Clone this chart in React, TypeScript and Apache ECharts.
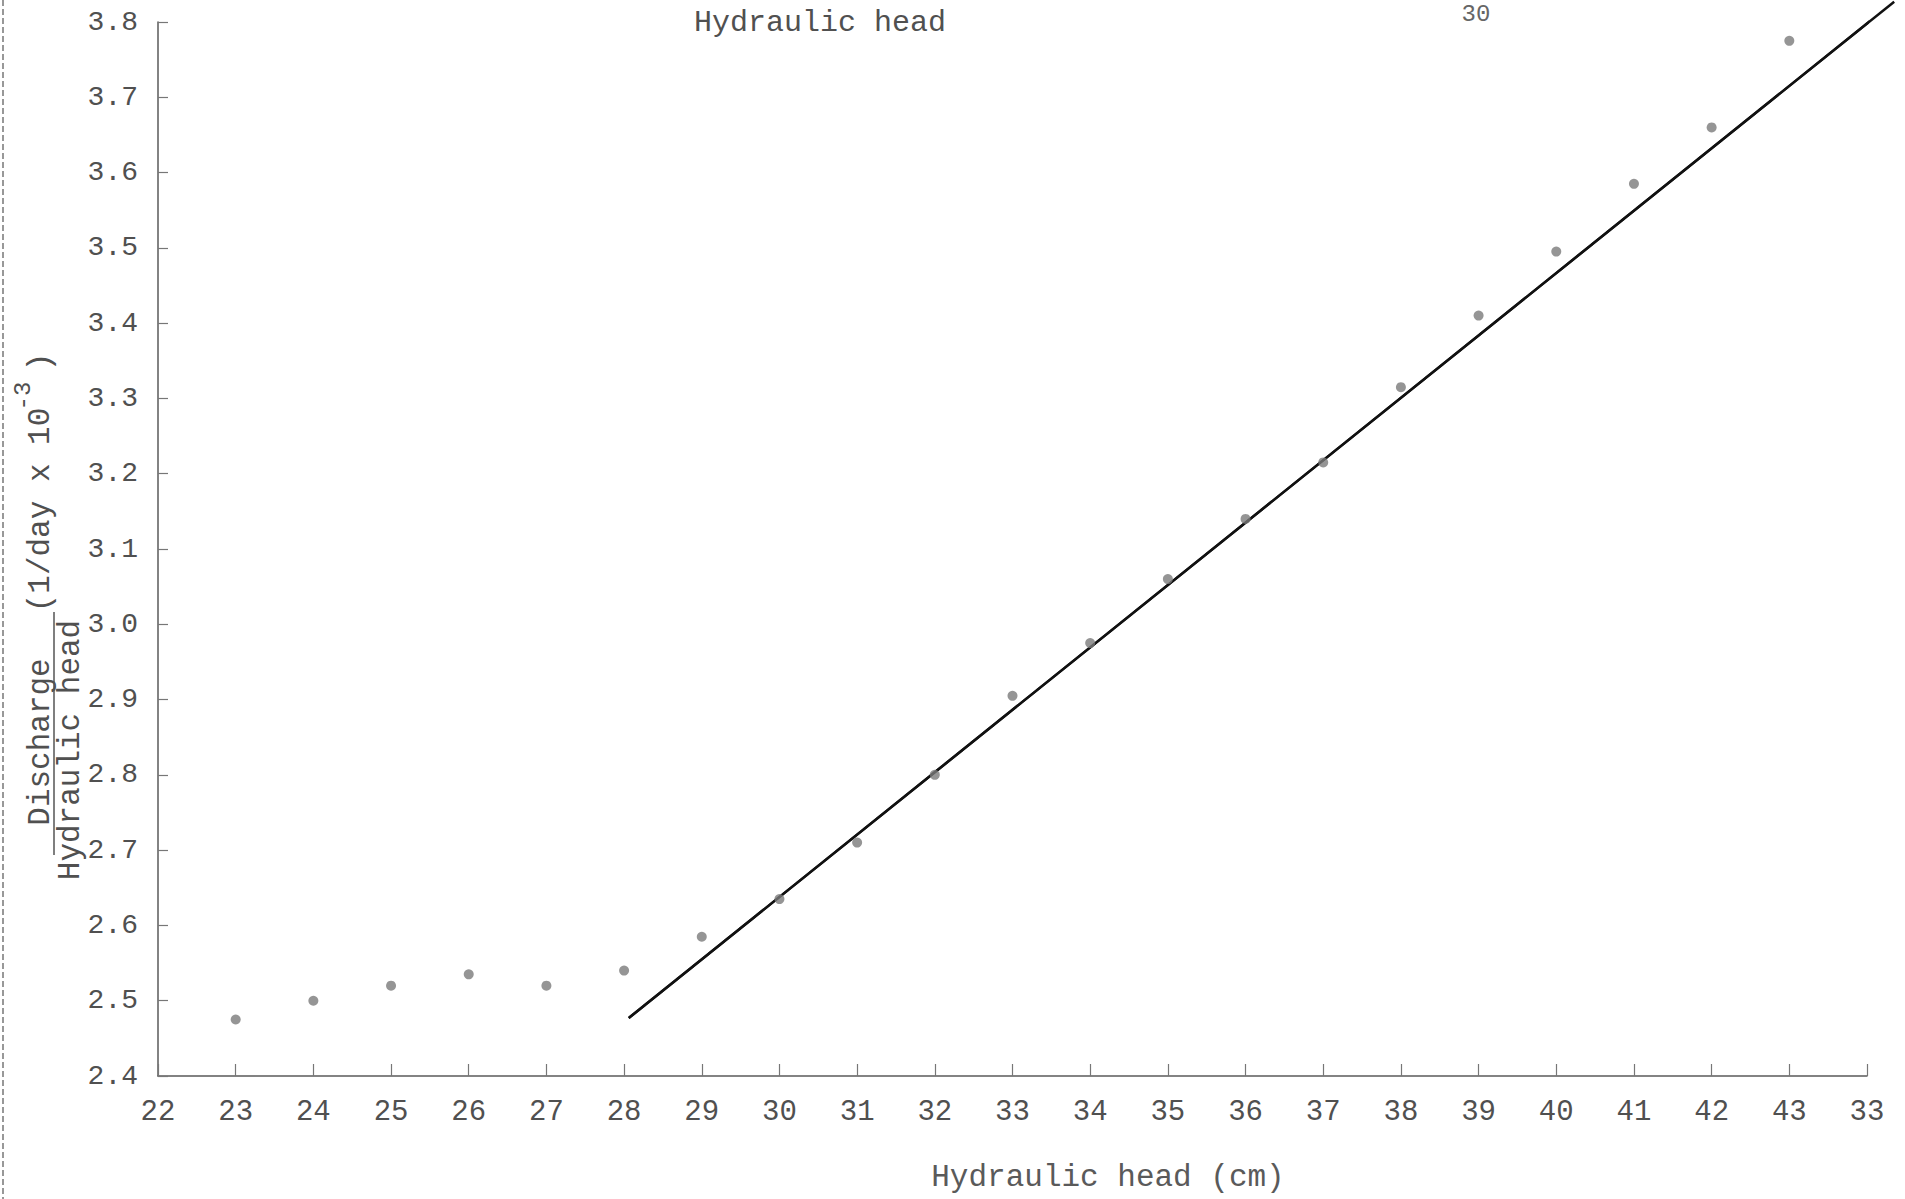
import React, { useEffect, useRef } from "react";
import * as echarts from "echarts";

const headCm = [23, 24, 25, 26, 27, 28, 29, 30, 31, 32, 33, 34, 35, 36, 37, 38, 39, 40, 41, 42, 43];
const ratioValues = [
  2.475, 2.5, 2.52, 2.535, 2.52, 2.54, 2.585, 2.635, 2.71, 2.8, 2.905,
  2.975, 3.06, 3.14, 3.215, 3.315, 3.41, 3.495, 3.585, 3.66, 3.775,
];
const fitLineX = [28.06, 44.35];
const fitLineY = [2.477, 3.827];
const xTickLabels = [
  "22", "23", "24", "25", "26", "27", "28", "29", "30", "31", "32",
  "33", "34", "35", "36", "37", "38", "39", "40", "41", "42", "43", "33",
];
const yTickLabels = [
  "2.4", "2.5", "2.6", "2.7", "2.8", "2.9", "3.0", "3.1",
  "3.2", "3.3", "3.4", "3.5", "3.6", "3.7", "3.8",
];

const FONT = "Liberation Mono";
const TEXT = "#505050";

export default function App() {
  const ref = useRef<HTMLDivElement>(null);
  useEffect(() => {
    if (!ref.current) return;
    const chart = echarts.init(ref.current, null, { renderer: "svg" });
    const scatterData = headCm.map((x, i) => [x, ratioValues[i]]);
    const fitData = fitLineX.map((x, i) => [x, fitLineY[i]]);
    chart.setOption({
      animation: false,
      backgroundColor: "#ffffff",
      grid: { left: 158, right: 38, top: 22, bottom: 123, outerBoundsMode: "none" },
      xAxis: {
        type: "value",
        min: 22,
        max: 44,
        interval: 1,
        axisLine: { show: true, lineStyle: { color: "#5a5a5a", width: 1.5 } },
        axisTick: { show: true, inside: true, length: 12, lineStyle: { color: "#777", width: 1.2 } },
        splitLine: { show: false },
        axisLabel: {
          margin: 22,
          fontFamily: FONT,
          fontSize: 29,
          color: TEXT,
          formatter: (v: number) => xTickLabels[Math.round(v - 22)] ?? "",
        },
      },
      yAxis: {
        type: "value",
        min: 2.4,
        max: 3.8,
        interval: 0.1,
        axisLine: { show: true, lineStyle: { color: "#5a5a5a", width: 1.5 } },
        axisTick: { show: true, inside: true, length: 10, lineStyle: { color: "#777", width: 1.2 } },
        splitLine: { show: false },
        axisLabel: {
          margin: 20,
          fontFamily: FONT,
          fontSize: 28,
          color: TEXT,
          formatter: (v: number) => yTickLabels[Math.round((v - 2.4) * 10)] ?? "",
        },
      },
      series: [
        {
          type: "scatter",
          data: scatterData,
          symbol: "circle",
          symbolSize: 10,
          itemStyle: { color: "#7a7a7a" },
          z: 3,
        },
        {
          type: "line",
          data: fitData,
          symbol: "none",
          clip: false,
          lineStyle: { color: "#111", width: 2.5 },
          z: 2,
        },
      ],
    });

    const p0 = chart.convertToPixel({ gridIndex: 0 }, fitData[0]) as number[];
    const p1 = chart.convertToPixel({ gridIndex: 0 }, fitData[1]) as number[];

    chart.setOption({
      graphic: [
        {
          type: "line",
          shape: { x1: p0[0], y1: p0[1], x2: p1[0], y2: p1[1] },
          style: { stroke: "#111", lineWidth: 2.5 },
          z: 2,
        },
        {
          type: "line",
          shape: { x1: 3, y1: 0, x2: 3, y2: 1199 },
          style: { stroke: "#777", lineWidth: 1.5, lineDash: [6, 3] },
        },
        {
          type: "text",
          x: 820,
          y: 23,
          style: { text: "Hydraulic head", font: `30px "${FONT}"`, fill: TEXT, align: "center", verticalAlign: "middle" },
        },
        {
          type: "text",
          x: 1476,
          y: 14,
          style: { text: "30", font: `24px "${FONT}"`, fill: "#666", align: "center", verticalAlign: "middle" },
        },
        {
          type: "text",
          x: 1108,
          y: 1177,
          style: { text: "Hydraulic head (cm)", font: `31px "${FONT}"`, fill: "#5a5a5a", align: "center", verticalAlign: "middle" },
        },
        {
          type: "text",
          x: 40,
          y: 742,
          rotation: Math.PI / 2,
          style: { text: "Discharge", font: `31px "${FONT}"`, fill: TEXT, align: "center", verticalAlign: "middle" },
        },
        {
          type: "line",
          shape: { x1: 54, y1: 612, x2: 54, y2: 855 },
          style: { stroke: "#555", lineWidth: 1.5 },
        },
        {
          type: "text",
          x: 70,
          y: 750,
          rotation: Math.PI / 2,
          style: { text: "Hydraulic head", font: `31px "${FONT}"`, fill: TEXT, align: "center", verticalAlign: "middle" },
        },
        {
          type: "text",
          x: 40,
          y: 510,
          rotation: Math.PI / 2,
          style: { text: "(1/day x 10", font: `31px "${FONT}"`, fill: TEXT, align: "center", verticalAlign: "middle" },
        },
        {
          type: "text",
          x: 23,
          y: 396,
          rotation: Math.PI / 2,
          style: { text: "-3", font: `24px "${FONT}"`, fill: TEXT, align: "center", verticalAlign: "middle" },
        },
        {
          type: "text",
          x: 40,
          y: 362,
          rotation: Math.PI / 2,
          style: { text: ")", font: `31px "${FONT}"`, fill: TEXT, align: "center", verticalAlign: "middle" },
        },
      ],
    });
    return () => chart.dispose();
  }, []);
  return (
    <div
      ref={ref}
      style={{ position: "fixed", left: 0, top: 0, width: 1905, height: 1199, background: "#fff" }}
    />
  );
}
